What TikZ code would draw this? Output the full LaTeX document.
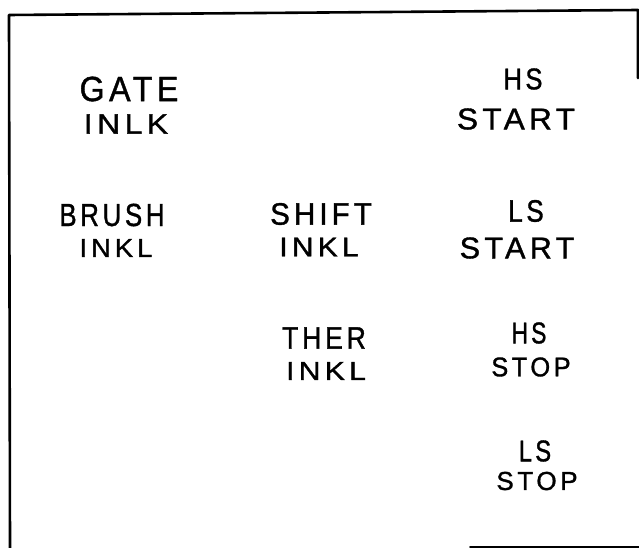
\documentclass[tikz,border=0pt]{standalone}
\usepackage{fontspec}
\setmainfont{Liberation Sans}
\newfontfamily\lettering[LetterSpace=14,FakeBold=1.2]{Liberation Sans}
% horizontal squeeze or stretch of a hand-lettered word
\newcommand{\hsq}[2]{\scalebox{#1}[1]{#2}}
\begin{document}
\begin{tikzpicture}[x=1pt,y=-1pt,
  lbl/.style={inner sep=0pt, anchor=center, font=\lettering\fontsize{#1}{#1}\selectfont},
  lbl/.default=27,
  frame/.style={line width=2.6pt, line cap=round, line join=round}]
  \useasboundingbox (0,0) rectangle (639,548);
  % open frame around the panel
  \draw[frame] (10,548) -- (9,15) -- (638,10) -- (638,78);
  \draw[frame, line width=2pt] (470,546.5) -- (639,546.5);
  % left column
  \node[lbl=35] (gate)  at (129,89)  {\hsq{0.92}{GATE}};
  \node[lbl=28] (inlk)  at (126,124) {\hsq{1.14}{INLK}};
  \node[lbl=32] (brush) at (112,215) {\hsq{0.81}{BRUSH}};
  \node[lbl=26] (bink)  at (116,248) {\hsq{1.06}{INKL}};
  % middle column
  \node[lbl=31] (shift) at (321,214) {\hsq{0.95}{SHIFT}};
  \node[lbl=27] (sink)  at (319,247) {\hsq{1.11}{INKL}};
  \node[lbl=31] (ther)  at (324,338) {\hsq{0.86}{THER}};
  \node[lbl=26] (tink)  at (326,371) {\hsq{1.16}{INKL}};
  % right column
  \node[lbl=30] (hs1)    at (523,79)  {\hsq{0.85}{HS}};
  \node[lbl=30] (start1) at (516,119) {\hsq{1.05}{START}};
  \node[lbl=31] (ls1)    at (526,211) {\hsq{0.84}{LS}};
  \node[lbl=30] (start2) at (517,248) {\hsq{1.02}{START}};
  \node[lbl=30] (hs2)    at (529,333) {\hsq{0.76}{HS}};
  \node[lbl=27] (stop1)  at (531,367) {\hsq{0.94}{STOP}};
  \node[lbl=30] (ls2)    at (535,451) {\hsq{0.79}{LS}};
  \node[lbl=26] (stop2)  at (537,481) {STOP};
\end{tikzpicture}
\end{document}
